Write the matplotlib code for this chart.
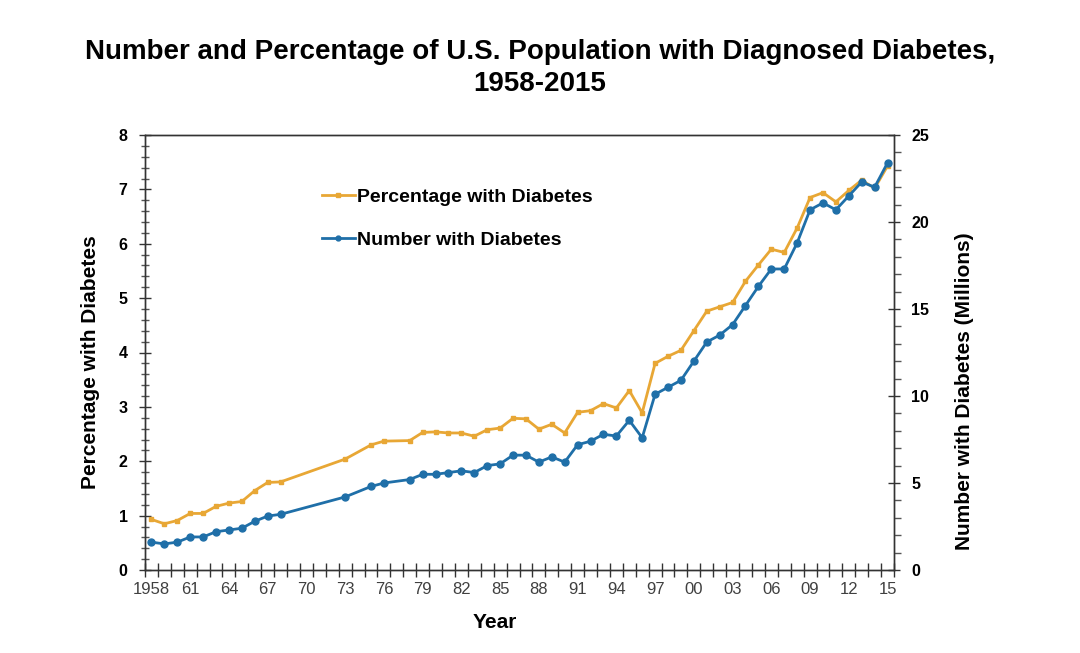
import numpy as np
import matplotlib
matplotlib.use("Agg")
import matplotlib.pyplot as plt
from matplotlib.ticker import MultipleLocator, FixedLocator

plt.rcParams['font.family'] = ['Liberation Sans', 'DejaVu Sans']

# data (CDC diagnosed diabetes)
years = [1958, 1959, 1960, 1961, 1962, 1963, 1964, 1965, 1966, 1967, 1968,
         1973, 1975, 1976, 1978, 1979, 1980, 1981, 1982, 1983, 1984, 1985,
         1986, 1987, 1988, 1989, 1990, 1991, 1992, 1993, 1994, 1995, 1996,
         1997, 1998, 1999, 2000, 2001, 2002, 2003, 2004, 2005, 2006, 2007,
         2008, 2009, 2010, 2011, 2012, 2013, 2014, 2015]
percent = [0.93, 0.85, 0.91, 1.04, 1.04, 1.17, 1.23, 1.26, 1.46, 1.61, 1.62,
           2.04, 2.30, 2.37, 2.38, 2.53, 2.54, 2.52, 2.52, 2.46, 2.58, 2.61,
           2.79, 2.78, 2.59, 2.68, 2.52, 2.90, 2.93, 3.06, 2.98, 3.30, 2.89,
           3.80, 3.93, 4.04, 4.40, 4.76, 4.84, 4.92, 5.31, 5.61, 5.90, 5.84,
           6.29, 6.85, 6.94, 6.77, 6.98, 7.17, 7.02, 7.43]
number = [1.6, 1.5, 1.6, 1.9, 1.9, 2.2, 2.3, 2.4, 2.8, 3.1, 3.2,
          4.2, 4.8, 5.0, 5.2, 5.5, 5.5, 5.6, 5.7, 5.6, 6.0, 6.1,
          6.6, 6.6, 6.2, 6.5, 6.2, 7.2, 7.4, 7.8, 7.7, 8.6, 7.6,
          10.1, 10.5, 10.9, 12.0, 13.1, 13.5, 14.1, 15.2, 16.3, 17.3, 17.3,
          18.8, 20.7, 21.1, 20.7, 21.5, 22.3, 22.0, 23.4]
label_years = list(range(1958, 2016, 3))
label_text = ['1958'] + ['%02d' % (y % 100) for y in label_years[1:]]

orange = '#E8A735'
blue = '#1F6FA8'

fig = plt.figure(figsize=(10.8, 6.53), dpi=100)
ax = fig.add_axes([145/1080, 1-570/653, 749/1080, 435/653])
ax2 = ax.twinx()

l1, = ax.plot(years, percent, color=orange, lw=2, marker='s', ms=3.5,
              mfc=orange, mec=orange, label='Percentage with Diabetes')
l2, = ax2.plot(years, number, color=blue, lw=2, marker='o', ms=5,
               mfc=blue, mec=blue, label='Number with Diabetes')

ax.set_xlim(1957.5, 2015.5)
ax.set_ylim(0, 8)
ax2.set_ylim(0, 25)

# year boundaries get ticks, labels sit on the year itself
ax.xaxis.set_major_locator(FixedLocator(np.arange(1957.5, 2016, 1)))
ax.set_xticklabels([])
ax.xaxis.set_minor_locator(FixedLocator(label_years))
ax.set_xticklabels(label_text, minor=True)
ax.tick_params(axis='x', which='major', direction='inout', length=10, width=1, color='#333333')
ax.tick_params(axis='x', which='minor', length=0, pad=9, labelsize=12, labelcolor='#404040')

ax.yaxis.set_major_locator(MultipleLocator(1))
ax.yaxis.set_minor_locator(MultipleLocator(0.2))
ax.tick_params(axis='y', which='major', direction='inout', length=9, width=1, color='#333333', labelsize=11.5, pad=8)
ax.tick_params(axis='y', which='minor', direction='inout', length=6, width=1, color='#555555')
for t in ax.get_yticklabels():
    t.set_fontweight('bold')

ax2.yaxis.set_major_locator(MultipleLocator(5))
ax2.yaxis.set_minor_locator(MultipleLocator(1))
ax2.tick_params(axis='y', which='major', direction='inout', length=9, width=1, color='#333333', labelsize=11.5, pad=8)
ax2.tick_params(axis='y', which='minor', direction='out', length=5, width=1, color='#555555')
for t in ax2.get_yticklabels():
    t.set_fontweight('bold')

for a in (ax, ax2):
    for s in a.spines.values():
        s.set_color('#333333')
        s.set_linewidth(1)

ax.set_ylabel('Percentage with Diabetes', fontsize=15, fontweight='bold')
ax.yaxis.set_label_coords(-0.060, 0.478)
ax2.set_ylabel('Number with Diabetes (Millions)', fontsize=15, fontweight='bold', rotation=90)
ax2.yaxis.set_label_coords(1.082, 0.411)
ax.set_xlabel('Year', fontsize=15, fontweight='bold')
ax.xaxis.set_label_coords(0.467, -0.099)

fig.text(0.5, 1-68/653, 'Number and Percentage of U.S. Population with Diagnosed Diabetes,\n1958-2015',
         ha='center', va='center', fontsize=20, fontweight='bold', linespacing=1.3)

leg = ax2.legend([l1, l2], ['Percentage with Diabetes', 'Number with Diabetes'],
                 loc='upper left', bbox_to_anchor=(0.236, 0.877), frameon=False,
                 handlelength=1.7, handletextpad=0.1, labelspacing=1.3,
                 borderpad=0, borderaxespad=0, prop={'size': 14, 'weight': 'bold'})
for h in leg.legend_handles:
    h.set_markersize(3.5)

fig.savefig('out.png', dpi=100)
